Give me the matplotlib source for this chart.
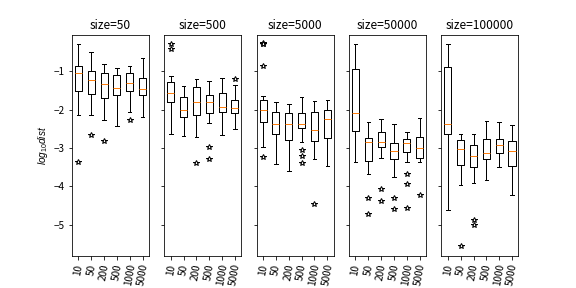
import matplotlib
matplotlib.use("Agg")
import matplotlib.pyplot as plt

plt.rcParams['font.family'] = ['Noto Sans CJK JP', 'DejaVu Sans']
plt.rcParams['font.size'] = 10
plt.rcParams['mathtext.fontset'] = 'custom'
plt.rcParams['mathtext.it'] = 'Liberation Sans:italic'
plt.rcParams['mathtext.rm'] = 'Liberation Sans'

sizes = [50, 500, 5000, 50000, 100000]
labels = ['10', '50', '200', '500', '1000', '5000']

# per panel, per box: [whislo, q1, med, q3, whishi]
stats_50 = [[-2.14, -1.51, -1.04, -0.86, -0.29],
            [-2.14, -1.58, -1.22, -0.99, -0.49],
            [-2.28, -1.70, -1.33, -1.04, -0.82],
            [-2.43, -1.62, -1.44, -1.09, -0.91],
            [-2.05, -1.52, -1.30, -1.04, -0.86],
            [-2.19, -1.62, -1.46, -1.17, -0.66]]
fliers_50 = [[-3.38], [-2.65], [-2.81], [], [-2.26], []]

stats_500 = [[-2.64, -1.81, -1.57, -1.28, -1.12],
             [-2.69, -2.18, -2.00, -1.68, -1.38],
             [-2.72, -2.13, -1.80, -1.42, -1.20],
             [-2.34, -2.10, -1.80, -1.62, -1.25],
             [-2.67, -2.05, -1.92, -1.57, -1.17],
             [-2.50, -2.10, -1.97, -1.76, -1.36]]
fliers_500 = [[-0.29, -0.41], [], [-3.40], [-2.97, -3.29], [], [-1.21]]

stats_5000 = [[-2.98, -2.32, -2.00, -1.76, -1.65],
              [-3.41, -2.64, -2.37, -2.05, -1.81],
              [-3.60, -2.80, -2.37, -2.10, -1.86],
              [-2.85, -2.48, -2.37, -2.10, -1.68],
              [-3.28, -2.82, -2.53, -2.05, -1.78],
              [-3.46, -2.74, -2.24, -2.00, -1.76]]
fliers_5000 = [[-0.26, -0.28, -0.29, -0.87, -3.24], [], [],
               [-3.06, -3.20, -3.40], [-4.47], []]

stats_50000 = [[-3.36, -2.56, -2.10, -0.93, -0.29],
               [-3.68, -3.33, -2.85, -2.74, -2.32],
               [-3.27, -2.98, -2.85, -2.58, -2.24],
               [-3.76, -3.30, -3.09, -2.88, -2.38],
               [-3.38, -3.10, -2.88, -2.77, -2.58],
               [-3.38, -3.25, -3.01, -2.72, -2.21]]
fliers_50000 = [[], [-4.31, -4.72], [-4.06, -4.39], [-4.32, -4.59],
                [-3.67, -3.93, -4.56], [-4.24]]

stats_100000 = [[-4.61, -2.64, -2.38, -0.90, -0.29],
                [-3.97, -3.44, -3.04, -2.80, -2.64],
                [-3.92, -3.49, -3.22, -2.93, -2.64],
                [-3.84, -3.28, -3.14, -2.77, -2.29],
                [-3.49, -3.14, -2.93, -2.77, -2.32],
                [-4.24, -3.46, -3.09, -2.82, -2.40]]
fliers_100000 = [[], [-5.55], [-4.88, -5.02], [], [], []]

all_stats = [stats_50, stats_500, stats_5000, stats_50000, stats_100000]
all_fliers = [fliers_50, fliers_500, fliers_5000, fliers_50000, fliers_100000]

fig, axes = plt.subplots(1, 5, sharey=True, figsize=(8, 4), dpi=72)

for ax, size, st, fl in zip(axes, sizes, all_stats, all_fliers):
    bxp_stats = []
    for lab, (lo, q1, med, q3, hi), f in zip(labels, st, fl):
        bxp_stats.append(dict(label=lab, whislo=lo, q1=q1, med=med, q3=q3,
                              whishi=hi, fliers=f))
    ax.bxp(bxp_stats, widths=0.55,
           flierprops=dict(marker='*', markerfacecolor='white',
                           markeredgecolor='black', markersize=6),
           medianprops=dict(color='#ff7f0e'))
    ax.set_title('size=%d' % size)
    ax.tick_params(axis='x', labelrotation=80)

axes[0].set_ylim(-5.83, -0.04)
axes[0].set_ylabel('$log_{10}dist$')

plt.savefig('out.png')
